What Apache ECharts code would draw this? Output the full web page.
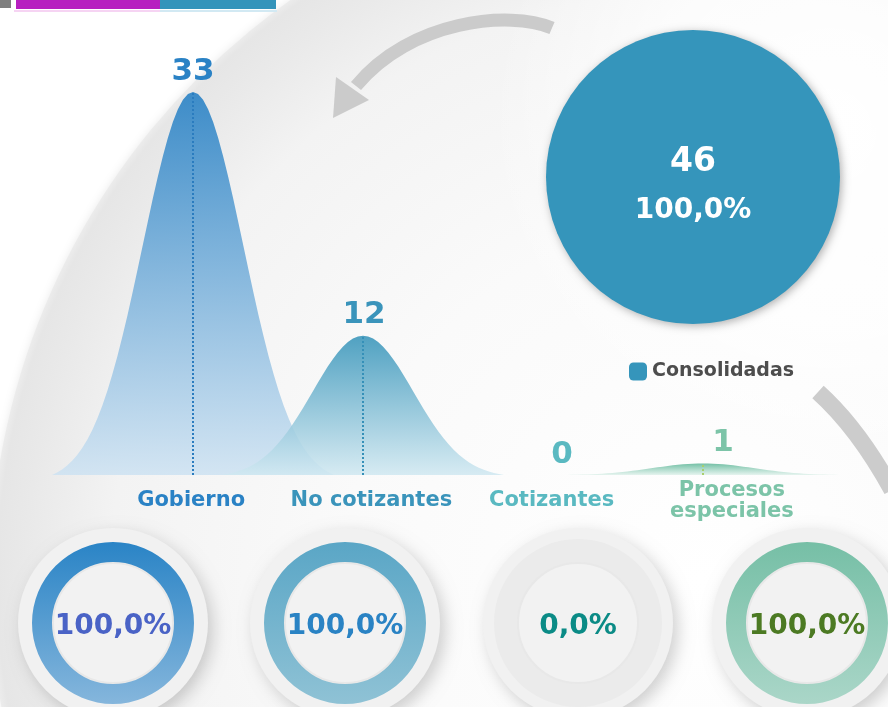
<!DOCTYPE html>
<html>
<head>
<meta charset="utf-8">
<script src="https://cdn.jsdelivr.net/npm/echarts@6/dist/echarts.min.js"></script>
<style>
  html, body { margin: 0; padding: 0; background: #fff; }
  #main { width: 888px; height: 707px; }
</style>
</head>
<body>
<div id="main"></div>
<script>
// datos del tablero
var categories = ['Gobierno', 'No cotizantes', 'Cotizantes', 'Procesos\nespeciales'];
var counts = [33, 12, 0, 1];
var shares = [100.0, 100.0, 0.0, 100.0];   // % consolidadas por tipo
var totalName = 'Consolidadas';
var totalValue = 46;

// colores
var peakTop = ['rgba(42,130,197,0.9)', 'rgba(56,149,186,0.88)', 'rgba(90,184,193,0.88)', 'rgba(100,185,156,0.9)'];
var peakBottom = ['rgba(205,226,242,0.85)', 'rgba(208,232,241,0.85)', 'rgba(220,240,242,0.85)', 'rgba(225,242,236,0.85)'];
var textColors = ['#2a82c5', '#3a94bb', '#5ab9c1', '#7cc4a8'];
var labelShift = [[0, 0], [1, 0], [29, 0], [20, 0]];
var dotColors = ['#2a7cbf', '#3590b8', '#8fbfc4', '#a8cf6e'];
var ringTop = ['#2a84c6', '#5aa6c6', '#e6e6e6', '#76bfa6'];
var ringBottom = ['#85b6dc', '#8fc2d5', '#e6e6e6', '#aad6c8'];
var shareColors = ['#4a63c6', '#2a83c4', '#0b8b86', '#4c7a23'];
var donutX = [113, 345, 578, 807];

function fmt(v) {
  return v.toFixed(1).replace('.', ',') + '%';
}

// campana para el pictorialBar (gaussiana recortada, llevada a 0 en los bordes)
function bellPath() {
  var d = 'path://M0,100';
  var end = Math.exp(-2.8 * 2.8 / 2);
  for (var i = 0; i <= 56; i++) {
    var t = -2.8 + i * 0.1;
    var g = (Math.exp(-t * t / 2) - end) / (1 - end);
    d += ' L' + (50 + t * 50 / 2.8).toFixed(2) + ',' + (100 - 100 * g).toFixed(2);
  }
  return d + ' L100,100 Z';
}

function vgrad(a, b) {
  return new echarts.graphic.LinearGradient(0, 0, 0, 1, [
    { offset: 0, color: a }, { offset: 1, color: b }
  ]);
}

var series = [];

series.push({
  type: 'pictorialBar',
  xAxisIndex: 0,
  yAxisIndex: 0,
  symbol: bellPath(),
  symbolSize: [282, '100%'],
  label: {
    show: true,
    position: 'top',
    distance: 5,
    fontSize: 31,
    fontWeight: 'bold',
    fontFamily: 'DejaVu Sans'
  },
  data: counts.map(function (v, i) {
    return {
      value: v,
      itemStyle: { color: vgrad(peakTop[i], peakBottom[i]) },
      label: { color: textColors[i], offset: labelShift[i] }
    };
  }),
  markLine: {
    silent: true,
    symbol: 'none',
    label: { show: false },
    emphasis: { disabled: true },
    data: counts.map(function (v, i) {
      return [
        { coord: [i, 0], lineStyle: { color: dotColors[i], type: 'dotted', width: 2 } },
        { coord: [i, v] }
      ];
    })
  }
});

series.push({
  type: 'pie',
  name: totalName,
  center: [693, 177],
  radius: 147,
  silent: true,
  itemStyle: {
    color: '#3595bb',
    shadowBlur: 8,
    shadowColor: 'rgba(0,0,0,0.3)',
    shadowOffsetX: 2,
    shadowOffsetY: 2
  },
  label: {
    show: true,
    position: 'center',
    color: '#fff',
    fontFamily: 'DejaVu Sans',
    fontWeight: 'bold',
    formatter: function (p) {
      return '{a|' + p.value + '}\n{b|' + fmt(p.percent) + '}';
    },
    rich: {
      a: { fontSize: 33, lineHeight: 68, color: '#fff', fontWeight: 'bold', fontFamily: 'DejaVu Sans' },
      b: { fontSize: 28, lineHeight: 30, color: '#fff', fontWeight: 'bold', fontFamily: 'DejaVu Sans' }
    }
  },
  labelLine: { show: false },
  data: [{ name: totalName, value: totalValue }]
});

shares.forEach(function (s, i) {
  var c = [donutX[i], 623];
  series.push({
    type: 'pie',
    center: c,
    radius: 95,
    silent: true,
    label: { show: false },
    itemStyle: {
      color: '#f1f1f1',
      shadowBlur: 16,
      shadowColor: 'rgba(0,0,0,0.18)',
      shadowOffsetX: 5,
      shadowOffsetY: 6
    },
    data: [{ value: 1 }]
  });
  series.push({
    type: 'pie',
    center: c,
    radius: [i === 2 ? 58 : 60, i === 2 ? 84 : 81],
    silent: true,
    startAngle: 90,
    label: { show: false },
    data: [
      { value: s, itemStyle: { color: vgrad(ringTop[i], ringBottom[i]) } },
      { value: 100 - s, itemStyle: { color: '#ebebeb' } }
    ]
  });
  series.push({
    type: 'pie',
    center: c,
    radius: 60,
    silent: true,
    itemStyle: { color: '#f2f2f2', borderColor: '#e8e8e8', borderWidth: 2 },
    label: {
      show: true,
      position: 'center',
      formatter: '{e|}\n{v|' + fmt(s) + '}',
      rich: {
        v: { color: shareColors[i], fontSize: 28, lineHeight: 40, fontWeight: 'bold', fontFamily: 'DejaVu Sans' },
        e: { lineHeight: 8, fontSize: 1 }
      }
    },
    labelLine: { show: false },
    data: [{ value: 1, name: categories[i] }]
  });
});

var option = {
  backgroundColor: '#ffffff',
  animation: false,
  legend: {
    data: [totalName],
    left: 629,
    top: 362,
    padding: 0,
    icon: 'roundRect',
    itemWidth: 18,
    itemHeight: 18,
    selectedMode: false,
    textStyle: { fontSize: 19, fontWeight: 'bold', color: '#4d4d4d', fontFamily: 'DejaVu Sans' }
  },
  grid: [
    { left: 108, width: 680, top: 92, height: 383 },
    { left: 101, width: 721, top: 400, height: 75 }
  ],
  xAxis: [
    { type: 'category', gridIndex: 0, data: categories, show: false },
    {
      type: 'category',
      gridIndex: 1,
      data: categories,
      axisLine: { show: false },
      axisTick: { show: false },
      axisLabel: {
        interval: 0,
        margin: 26,
        verticalAlign: 'middle',
        lineHeight: 21,
        fontSize: 21,
        fontWeight: 'bold',
        fontFamily: 'DejaVu Sans',
        color: function (v) { return textColors[categories.indexOf(v)]; }
      }
    }
  ],
  yAxis: [
    { type: 'value', gridIndex: 0, min: 0, max: 'dataMax', show: false },
    { type: 'value', gridIndex: 1, show: false }
  ],
  graphic: [
    {
      type: 'circle', z: -10, silent: true,
      shape: { cx: 700, cy: 580, r: 710 },
      style: {
        fill: {
          type: 'radial', x: 0.5, y: 0.5, r: 0.5,
          colorStops: [
            { offset: 0, color: '#ffffff' },
            { offset: 0.5, color: '#fafafa' },
            { offset: 0.83, color: '#f3f3f3' },
            { offset: 0.95, color: '#e9e9e9' },
            { offset: 0.99, color: '#e6e6e6' },
            { offset: 1, color: '#ececec' }
          ]
        },
        shadowBlur: 8,
        shadowColor: 'rgba(0,0,0,0.08)'
      }
    },
    {
      type: 'circle', z: -9, silent: true,
      shape: { cx: 830, cy: 130, r: 340 },
      style: {
        fill: {
          type: 'radial', x: 0.5, y: 0.5, r: 0.5,
          colorStops: [
            { offset: 0, color: 'rgba(255,255,255,1)' },
            { offset: 0.55, color: 'rgba(255,255,255,0.75)' },
            { offset: 1, color: 'rgba(255,255,255,0)' }
          ]
        }
      }
    },
    {
      type: 'bezierCurve', z: -5, silent: true,
      shape: { x1: 552, y1: 28, cpx1: 510, cpy1: 10, cpx2: 410, cpy2: 20, x2: 356, y2: 86 },
      style: { stroke: '#cbcbcb', lineWidth: 13, fill: null }
    },
    {
      type: 'polygon', z: -5, silent: true,
      shape: { points: [[333, 118], [336, 77], [369, 100]] },
      style: { fill: '#cbcbcb' }
    },
    {
      type: 'bezierCurve', z: -5, silent: true,
      shape: { x1: 818, y1: 392, cpx1: 858, cpy1: 428, x2: 892, y2: 490 },
      style: { stroke: '#cccccc', lineWidth: 17, fill: null }
    },
    { type: 'rect', silent: true, shape: { x: 0, y: 0, width: 11, height: 8 }, style: { fill: '#7f7f7f' } },
    { type: 'rect', silent: true, shape: { x: 16, y: 0, width: 144, height: 9 }, style: { fill: '#b71fc0' } },
    { type: 'rect', silent: true, shape: { x: 160, y: 0, width: 116, height: 9 }, style: { fill: '#3494bb' } },
    { type: 'rect', silent: true, shape: { x: 14, y: 10, width: 146, height: 2 }, style: { fill: '#f6d4f3' } },
    { type: 'rect', silent: true, shape: { x: 160, y: 10, width: 117, height: 2 }, style: { fill: '#d2e9f3' } }
  ],
  series: series
};

echarts.init(document.getElementById('main')).setOption(option);
</script>
</body>
</html>
